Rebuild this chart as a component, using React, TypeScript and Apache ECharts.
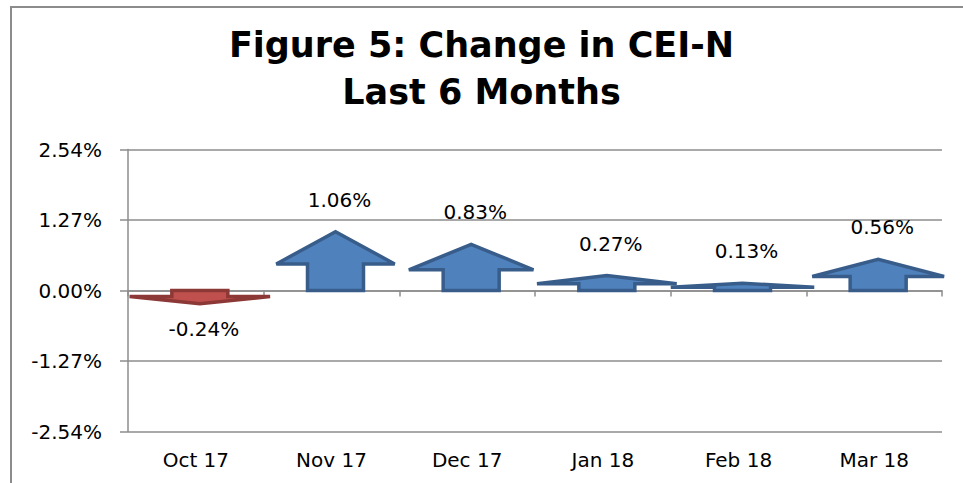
import React, { useEffect, useRef } from "react";
import * as echarts from "echarts";

const categories = ["Oct 17", "Nov 17", "Dec 17", "Jan 18", "Feb 18", "Mar 18"];
const changes = [-0.24, 1.06, 0.83, 0.27, 0.13, 0.56];
const axisMin = -2.54;
const axisMax = 2.54;
const axisStep = 1.27;
const titleLines = ["Figure 5: Change in CEI-N", "Last 6 Months"];

const FONT = "'DejaVu Sans', Verdana, sans-serif";

export default function App() {
  const ref = useRef<HTMLDivElement>(null);

  useEffect(() => {
    if (!ref.current) return;
    const chart = echarts.init(ref.current, null, { renderer: "svg" });
    const gray = "#8c8c8c";

    const option: any = {
      animation: false,
      backgroundColor: "#ffffff",
      title: {
        text: titleLines.join("\n"),
        left: "center",
        top: 21,
        padding: [0, 0, 0, 20],
        textStyle: {
          fontFamily: FONT,
          fontWeight: "bold",
          fontSize: 35,
          lineHeight: 47,
          color: "#000000",
        },
      },
      graphic: [
        {
          type: "rect",
          shape: { x: 11, y: 7, width: 1200, height: 800 },
          style: { fill: "none", stroke: gray, lineWidth: 2 },
          silent: true,
        },
      ],
      grid: { left: 128, right: 21, top: 149.5, bottom: 51.5, containLabel: false },
      xAxis: [
        {
          type: "category",
          data: categories,
          position: "bottom",
          boundaryGap: true,
          axisLine: { show: true, onZero: true, lineStyle: { color: gray, width: 1.5 } },
          axisTick: { show: true, inside: false, length: 6, lineStyle: { color: gray, width: 1.5 } },
          axisLabel: { show: false },
          splitLine: { show: false },
        },
        {
          type: "category",
          data: categories,
          position: "bottom",
          axisLine: { show: false, onZero: false },
          axisTick: { show: false },
          axisLabel: {
            show: true,
            margin: 18,
            fontFamily: FONT,
            fontSize: 20,
            color: "#000000",
          },
          splitLine: { show: false },
        },
      ],
      yAxis: {
        type: "value",
        min: axisMin,
        max: axisMax,
        interval: axisStep,
        axisLine: { show: true, lineStyle: { color: gray, width: 1.5 } },
        axisTick: { show: true, inside: false, length: 8, lineStyle: { color: gray, width: 1.5 } },
        axisLabel: {
          margin: 26,
          fontFamily: FONT,
          fontSize: 20,
          color: "#000000",
          formatter: (v: number) => v.toFixed(2) + "%",
        },
        splitLine: { show: true, lineStyle: { color: gray, width: 1.5 } },
      },
      series: [
        {
          type: "custom",
          xAxisIndex: 0,
          yAxisIndex: 0,
          encode: { x: 0, y: 1 },
          data: changes.map((v, i) => [i, v]),
          clip: false,
          renderItem: (params: any, api: any) => {
            const idx = api.value(0);
            const v = api.value(1);
            const base = api.coord([idx, 0]);
            const tip = api.coord([idx, v]);
            const cx = base[0] + 4;
            const by = base[1];
            const ty = tip[1];
            const hy = ty + 0.55 * (by - ty);
            const sw = 56;
            const hw = 147 - 27 * Math.abs(v);
            const up = v >= 0;
            const points = [
              [cx - sw / 2, by],
              [cx - sw / 2, hy],
              [cx - hw / 2, hy],
              [cx, ty],
              [cx + hw / 2, hy],
              [cx + sw / 2, hy],
              [cx + sw / 2, by],
            ];
            const text = v.toFixed(2) + "%";
            return {
              type: "group",
              children: [
                {
                  type: "polygon",
                  shape: { points },
                  style: {
                    fill: up ? "#4F81BD" : "#C0504D",
                    stroke: up ? "#385D8A" : "#8C3836",
                    lineWidth: 3.5,
                    lineJoin: "miter",
                  },
                },
                {
                  type: "text",
                  x: cx + 4,
                  y: up ? ty - 32 : ty + 25,
                  style: {
                    text,
                    fill: "#000000",
                    font: `20px ${FONT}`,
                    align: "center",
                    verticalAlign: "middle",
                    textAlign: "center",
                    textVerticalAlign: "middle",
                  },
                },
              ],
            };
          },
        },
      ],
    };

    chart.setOption(option);
    return () => chart.dispose();
  }, []);

  return (
    <div
      ref={ref}
      style={{ position: "absolute", left: 0, top: 0, width: 963, height: 483 }}
    />
  );
}
